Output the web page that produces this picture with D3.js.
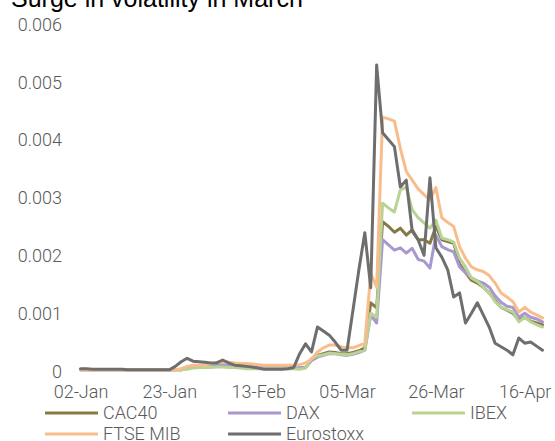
<!DOCTYPE html>
<html>
<head>
<meta charset="utf-8">
<script src="https://cdn.jsdelivr.net/npm/d3@7"></script>
<style>
  html, body { margin: 0; padding: 0; background: #fff; }
  svg { display: block; }
  text { font-family: "Liberation Sans", Arial, sans-serif; }
  .lbl { font-family: Roboto, "Liberation Sans", sans-serif; font-weight: 300; }
</style>
</head>
<body>
<svg id="chart" width="555" height="441"></svg>
<script>
// ---------- data ----------
const title = "Surge in volatility in March";
const xTickIndex = [0, 15, 30, 45, 60, 75];
const xTickLabels = ["02-Jan", "23-Jan", "13-Feb", "05-Mar", "26-Mar", "16-Apr"];
const yTicks = [0, 0.001, 0.002, 0.003, 0.004, 0.005, 0.006];
const seriesNames = ["CAC40", "DAX", "IBEX", "FTSE MIB", "Eurostoxx"];
const seriesColors = ["#857a45", "#a997d1", "#b8d394", "#f9bd8c", "#6e6e6e"];

const cac40 = [
  0.00002,0.00002,0.00002,0.00002,0.00002,0.00002,0.00002,0.00002,0.00002,0.00002,
  0.00002,0.00002,0.00002,0.00002,0.00002,0.00002,0.00002,0.00002,0.00005,0.00007,
  0.00007,0.00008,0.00008,0.0001,0.0001,0.00009,0.00008,0.00007,0.00006,0.00005,
  0.00005,0.00005,0.00005,0.00005,0.00005,0.00005,0.00005,0.00005,0.00006,0.0002,
  0.00027,0.0003,0.00033,0.00032,0.0003,0.0003,0.00032,0.00035,0.0004,0.00118,
  0.00109,0.00258,0.0025,0.0024,0.00247,0.00235,0.00244,0.00227,0.00227,0.00221,
  0.0025,0.00227,0.00224,0.00221,0.00185,0.0017,0.00157,0.00152,0.00145,0.00135,
  0.00122,0.0011,0.00105,0.001,0.00088,0.00093,0.00086,0.00083,0.0008
];
const dax = [
  0.00002,0.00002,0.00002,0.00002,0.00002,0.00002,0.00002,0.00002,0.00002,0.00002,
  0.00002,0.00002,0.00002,0.00002,0.00002,0.00002,0.00002,0.00002,0.00005,0.00008,
  0.00008,0.00009,0.0001,0.00011,0.00011,0.0001,0.00009,0.00008,0.00007,0.00006,
  0.00005,0.00005,0.00005,0.00005,0.00005,0.00005,0.00005,0.00005,0.00006,0.00018,
  0.00024,0.00027,0.0003,0.0003,0.00028,0.00027,0.00029,0.00032,0.00036,0.00097,
  0.00083,0.00227,0.00218,0.00209,0.00213,0.00204,0.00212,0.00193,0.0019,0.00178,
  0.00235,0.00215,0.0021,0.00206,0.0018,0.0017,0.00161,0.00156,0.00152,0.00145,
  0.0013,0.00119,0.00112,0.0011,0.00093,0.001,0.00093,0.0009,0.00085
];
const ibex = [
  0.00002,0.00002,0.00002,0.00002,0.00002,0.00002,0.00002,0.00002,0.00002,0.00002,
  0.00002,0.00002,0.00002,0.00002,0.00002,0.00002,0.00002,0.00002,0.00003,0.00005,
  0.00006,0.00006,0.00006,0.00007,0.00007,0.00006,0.00006,0.00005,0.00004,0.00004,
  0.00004,0.00004,0.00004,0.00004,0.00004,0.00004,0.00004,0.00003,0.00005,0.00022,
  0.00026,0.00028,0.00031,0.0003,0.00029,0.00028,0.0003,0.00033,0.00036,0.001,
  0.00093,0.0029,0.00282,0.00275,0.00313,0.00318,0.00279,0.00265,0.00256,0.00247,
  0.00261,0.0023,0.00227,0.00223,0.00195,0.0018,0.00161,0.00155,0.00145,0.00135,
  0.0012,0.0011,0.00106,0.00102,0.00085,0.00093,0.00085,0.0008,0.00076
];
const ftseMib = [
  0.00002,0.00002,0.00002,0.00002,0.00002,0.00002,0.00002,0.00002,0.00002,0.00002,
  0.00002,0.00002,0.00002,0.00002,0.00002,0.00002,0.00002,0.00004,0.00008,0.0001,
  0.0001,0.00011,0.00012,0.00015,0.00016,0.00015,0.00014,0.00013,0.00013,0.00012,
  0.00011,0.0001,0.0001,0.0001,0.0001,0.0001,0.0001,0.00011,0.00014,0.0002,
  0.00033,0.0004,0.00045,0.00045,0.00042,0.0004,0.0004,0.00044,0.00048,0.00169,
  0.00145,0.00439,0.00436,0.00432,0.00385,0.00345,0.0033,0.00315,0.00305,0.00296,
  0.00317,0.00265,0.00257,0.0025,0.00215,0.00195,0.0018,0.00175,0.00172,0.00165,
  0.00152,0.00135,0.00128,0.0012,0.00102,0.0011,0.00102,0.00097,0.00092
];
const eurostoxx = [
  0.00004,0.00004,0.00003,0.00003,0.00003,0.00003,0.00003,0.00003,0.00002,0.00002,
  0.00002,0.00002,0.00002,0.00002,0.00002,0.00002,0.00008,0.00016,0.00022,0.00017,
  0.00016,0.00015,0.00014,0.00014,0.00019,0.00014,0.0001,0.00009,0.00008,0.00007,
  0.00005,0.00003,0.00003,0.00003,0.00003,0.00004,0.00006,0.0003,0.00047,0.00033,
  0.00076,0.00069,0.00062,0.0005,0.00036,0.00036,0.00105,0.00175,0.00239,0.00144,
  0.00529,0.00412,0.004,0.00388,0.00318,0.0033,0.00242,0.00227,0.002,0.00334,
  0.00213,0.00197,0.00175,0.00128,0.00135,0.00083,0.001,0.00118,0.00097,0.00076,
  0.00048,0.00042,0.00036,0.00028,0.00057,0.00048,0.0005,0.00043,0.00036
];
const seriesValues = [cac40, dax, ibex, ftseMib, eurostoxx];

// ---------- drawing ----------
const svg = d3.select("#chart");
const n = cac40.length;
const x = d3.scaleLinear().domain([0, n - 1]).range([80.5, 542.5]);
const y = d3.scaleLinear().domain([0, 0.006]).range([371, 24]);

svg.append("text")
  .attr("x", 11).attr("y", 7)
  .attr("font-size", 25).attr("fill", "#000")
  .text(title);

// Y axis (labels only)
const yAxis = d3.axisLeft(y).tickValues(yTicks)
  .tickFormat(d => d === 0 ? "0" : d3.format(".3f")(d))
  .tickSize(0).tickPadding(0);
const gy = svg.append("g").attr("transform", "translate(62,0)").call(yAxis);
gy.select(".domain").remove();
gy.selectAll("text").attr("class", "lbl").attr("font-size", 18).attr("fill", "#595959")
  .attr("font-family", null).attr("dy", "0.35em");

// X axis (labels only)
const xAxis = d3.axisBottom(x).tickValues(xTickIndex)
  .tickFormat((d, i) => xTickLabels[i]).tickSize(0).tickPadding(0);
const gx = svg.append("g").attr("transform", "translate(0,385)").call(xAxis);
gx.select(".domain").remove();
gx.selectAll("text").attr("class", "lbl").attr("font-size", 18).attr("fill", "#595959")
  .attr("dy", "0.72em");
svg.selectAll("g").attr("font-family", null);

// Lines
const line = d3.line().x((d, i) => x(i)).y(d => y(d));
seriesValues.forEach((vals, k) => {
  svg.append("path")
    .datum(vals)
    .attr("d", line)
    .attr("fill", "none")
    .attr("stroke", seriesColors[k])
    .attr("stroke-width", 3)
    .attr("stroke-linejoin", "round")
    .attr("stroke-linecap", "round");
});

// Legend
const legCols = [45, 228, 412];
const legRows = [413, 434];
seriesNames.forEach((name, k) => {
  const cx = legCols[k % 3], cy = legRows[Math.floor(k / 3)];
  svg.append("line")
    .attr("x1", cx).attr("x2", cx + 53).attr("y1", cy).attr("y2", cy)
    .attr("stroke", seriesColors[k]).attr("stroke-width", 3);
  svg.append("text")
    .attr("class", "lbl")
    .attr("x", cx + 58).attr("y", cy).attr("dy", "0.35em")
    .attr("font-size", 18).attr("fill", "#595959")
    .text(name);
});
</script>
</body>
</html>
